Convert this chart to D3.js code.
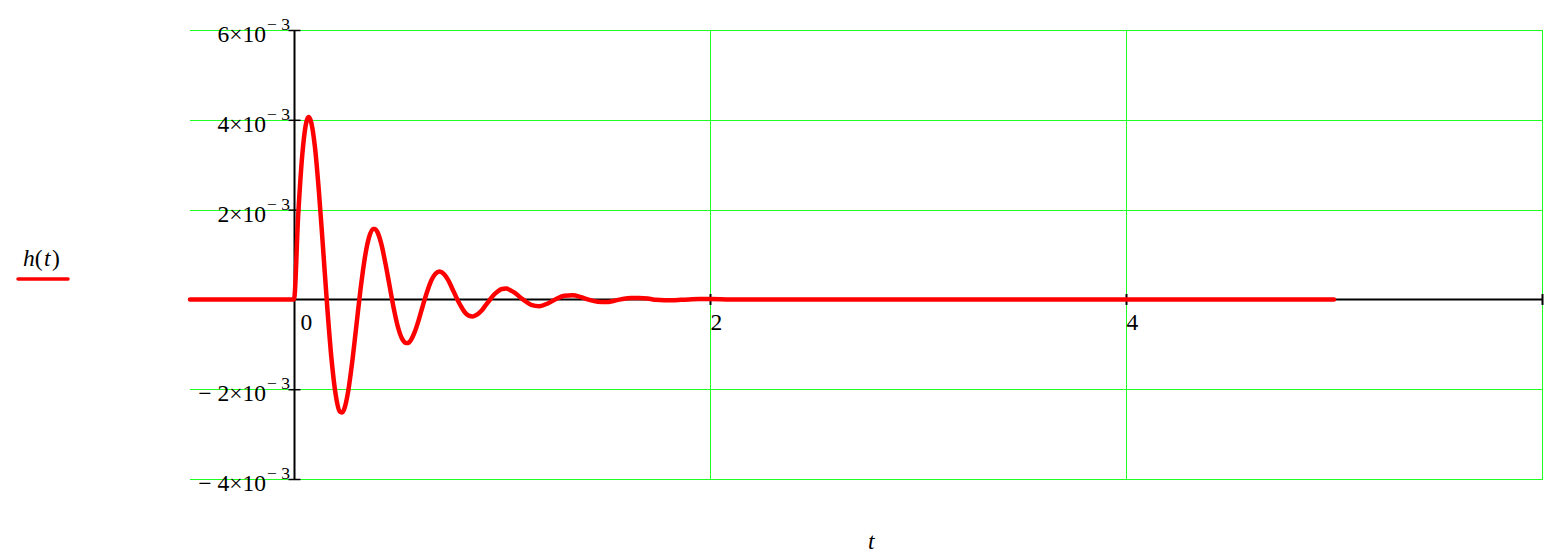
<!DOCTYPE html>
<html>
<head>
<meta charset="utf-8">
<script src="https://cdn.jsdelivr.net/npm/d3@7"></script>
<style>
  html, body { margin: 0; padding: 0; background: #ffffff; }
  svg { display: block; }
  text { font-family: "Liberation Serif", "Times New Roman", serif; fill: #000; }
</style>
</head>
<body>
<svg id="chart" width="1544" height="555"></svg>
<script>
// ---- data (h values in units of 1e-3) ----
const tValues = [-0.5, 0, 0.02, 0.04, 0.06, 0.07, 0.08, 0.10, 0.12, 0.14, 0.16, 0.18, 0.20, 0.22, 0.23, 0.24, 0.26, 0.28, 0.30,
  0.32, 0.34, 0.36, 0.38, 0.39, 0.40, 0.42, 0.44, 0.46, 0.48, 0.50, 0.52, 0.54, 0.55, 0.56, 0.58, 0.60,
  0.62, 0.64, 0.66, 0.68, 0.70, 0.72, 0.74, 0.76, 0.78, 0.80, 0.82, 0.84, 0.86, 0.88, 0.90,
  0.92, 0.94, 0.96, 0.98, 1.00, 1.02, 1.06, 1.10, 1.14, 1.18, 1.22, 1.26, 1.30, 1.34, 1.38,
  1.42, 1.46, 1.50, 1.54, 1.58, 1.62, 1.66, 1.70, 1.74, 1.78, 1.82, 1.86, 1.90, 1.95, 2.00,
  2.10, 2.20, 3.00, 4.00, 5.00];
const hValues = [0, 0, 1.86, 3.23, 3.96, 4.06, 3.99, 3.42, 2.39, 1.12, -0.18, -1.31, -2.11, -2.50, -2.52, -2.46, -2.06, -1.39, -0.58,
  0.23, 0.91, 1.37, 1.57, 1.57, 1.51, 1.23, 0.79, 0.29, -0.21, -0.62, -0.88, -0.97, -0.97, -0.92, -0.73, -0.45,
  -0.13, 0.17, 0.42, 0.57, 0.62, 0.57, 0.44, 0.25, 0.05, -0.13, -0.28, -0.36, -0.38, -0.34, -0.26,
  -0.14, -0.02, 0.10, 0.18, 0.23, 0.24, 0.15, 0.00, -0.12, -0.15, -0.09, 0.01, 0.08, 0.09, 0.05,
  -0.01, -0.05, -0.06, -0.03, 0.01, 0.03, 0.03, 0.02, -0.01, -0.02, -0.02, -0.01, 0.00, 0.01, 0.01,
  0, 0, 0, 0, 0];
const xTickValues = [0, 2, 4, 6];
const xTickLabels = ["0", "2", "4", ""];
const xGridValues = [2, 4, 6];
const yTickValues = [6, 4, 2, -2, -4];          // in units of 1e-3
const yTickMantissa = ["6×10", "4×10", "2×10", "\u2212 2×10", "\u2212 4×10"];
const yTickExponent = ["\u2212 3", "\u2212 3", "\u2212 3", "\u2212 3", "\u2212 3"];
const xDomain = [-0.5, 6];
const yDomain = [-4, 6];
const legendLabel = "h(t)";
const xAxisTitle = "t";

(function () {
  // ---- layout ----
  const svg = d3.select("#chart");
  const pLeft = 190, pRight = 1542, pTop = 30, pBottom = 479;
  const x = d3.scaleLinear().domain(xDomain).range([pLeft, pRight]);
  const y = d3.scaleLinear().domain(yDomain).range([pBottom, pTop]);
  const x0 = Math.round(x(0)), y0 = Math.round(y(0));
  const fs = 23.5;

  // grid
  const grid = svg.append("g").attr("stroke", "#22ff22").attr("stroke-width", 1.2).attr("shape-rendering", "crispEdges");
  grid.selectAll("line.h").data(yTickValues).join("line")
    .attr("x1", pLeft).attr("x2", pRight)
    .attr("y1", d => Math.round(y(d)) + 0.5).attr("y2", d => Math.round(y(d)) + 0.5);
  grid.selectAll("line.v").data(xGridValues).join("line")
    .attr("x1", d => Math.round(x(d)) + 0.5).attr("x2", d => Math.round(x(d)) + 0.5)
    .attr("y1", pTop).attr("y2", pBottom + 1);

  // axis lines
  svg.append("line").attr("x1", pLeft).attr("x2", pRight + 1).attr("y1", y0 + 0.5).attr("y2", y0 + 0.5)
    .attr("stroke", "#000").attr("stroke-width", 2);
  svg.append("line").attr("x1", x0 + 0.5).attr("x2", x0 + 0.5).attr("y1", pTop).attr("y2", pBottom + 1)
    .attr("stroke", "#000").attr("stroke-width", 2);

  // y ticks via d3 axis (centered on the axis line)
  const yAxisG = svg.append("g").attr("transform", `translate(${x0 + 6.5},0)`)
    .call(d3.axisLeft(y).tickValues(yTickValues).tickSize(12).tickFormat(""));
  yAxisG.select(".domain").remove();
  yAxisG.selectAll(".tick line").attr("stroke", "#000").attr("stroke-width", 1.5);

  // x ticks via d3 axis
  const xAxisG = svg.append("g").attr("transform", `translate(0,${y0 - 5})`)
    .call(d3.axisBottom(x).tickValues(xTickValues.filter(d => d !== 0)).tickSize(11).tickFormat(""));
  xAxisG.select(".domain").remove();
  xAxisG.selectAll(".tick line").attr("stroke", "#000").attr("stroke-width", 2);

  // y tick labels
  yTickValues.forEach((v, i) => {
    const yy = y(v);
    svg.append("text").attr("x", 266).attr("y", yy + 12).attr("text-anchor", "end")
      .attr("font-size", fs).text(yTickMantissa[i]);
    svg.append("text").attr("x", 290).attr("y", yy).attr("text-anchor", "end")
      .attr("font-size", 17.5).text(yTickExponent[i]);
  });

  // x tick labels
  xTickValues.forEach((v, i) => {
    if (!xTickLabels[i]) return;
    svg.append("text").attr("x", x(v) + (v === 0 ? 6.5 : 0.5)).attr("y", y0 + 31)
      .attr("font-size", fs).text(xTickLabels[i]);
  });

  // curve
  const data = tValues.map((t, i) => ({ t, h: hValues[i] }));
  svg.append("path").datum(data)
    .attr("fill", "none").attr("stroke", "#ff0000").attr("stroke-width", 4.5)
    .attr("stroke-linejoin", "round").attr("stroke-linecap", "round")
    .attr("d", d3.line().x(d => x(d.t)).y(d => y(d.h)).curve(d3.curveMonotoneX));

  // legend
  const lg = svg.append("text").attr("x", 23).attr("y", 265.5).attr("font-size", fs);
  lg.append("tspan").attr("font-style", "italic").text("h");
  lg.append("tspan").text("(");
  lg.append("tspan").attr("font-style", "italic").attr("dx", 1.5).text("t");
  lg.append("tspan").attr("dx", 1.5).text(")");
  svg.append("line").attr("x1", 18).attr("x2", 68).attr("y1", 279).attr("y2", 279)
    .attr("stroke", "#ff0000").attr("stroke-width", 3.5).attr("stroke-linecap", "round");

  // x axis title
  svg.append("text").attr("x", 868).attr("y", 549).attr("font-size", fs).attr("font-style", "italic").text(xAxisTitle);
})();
</script>
</body>
</html>
